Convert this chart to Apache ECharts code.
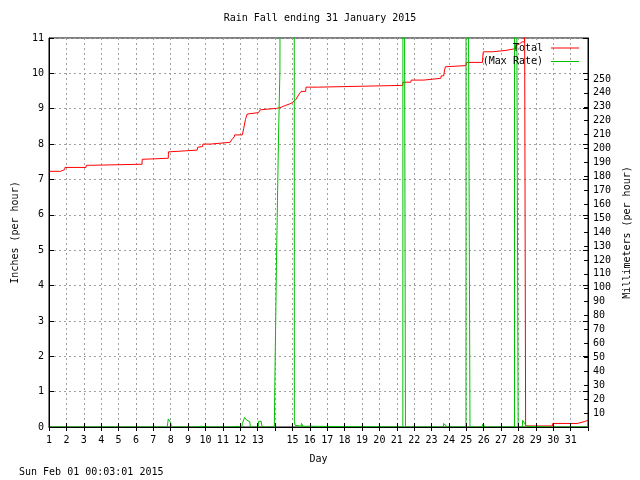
<!DOCTYPE html>
<html>
<head>
<meta charset="utf-8">
<script src="https://cdn.jsdelivr.net/npm/echarts@6/dist/echarts.min.js"></script>
<style>html,body{margin:0;padding:0;background:#fff}#c{width:640px;height:480px}</style>
</head>
<body>
<div id="c"></div>
<script>
// ---- data ----
const titleText = 'Rain Fall ending 31 January 2015';
const stampText = 'Sun Feb 01 00:03:01 2015';
const dayLabels = [1,2,3,4,5,6,7,8,9,10,11,12,13,15,16,17,18,19,20,21,22,23,24,25,26,27,28,29,30,31];
const inchLabels = [0,1,2,3,4,5,6,7,8,9,10,11];
const mmLabels = [10,20,30,40,50,60,70,80,90,100,110,120,130,140,150,160,170,180,190,200,210,220,230,240,250];

const totalDays = [1,1.67,1.69,1.90,1.92,3.13,3.15,3.37,3.39,6.35,6.36,6.40,7.86,7.87,7.95,
  9.52,9.55,9.83,9.85,10.28,10.30,11.42,11.50,11.65,11.68,12.12,12.20,12.30,12.40,12.46,
  13.05,13.15,13.26,14.08,14.10,14.35,14.37,14.58,14.60,14.81,14.83,14.98,15.00,15.20,15.27,15.38,15.50,15.76,15.78,16.45,16.47,
  21.34,21.35,21.81,21.83,22.55,22.57,23.53,23.56,23.70,23.75,23.80,23.95,23.97,
  24.98,25.00,25.93,25.96,25.98,26.50,26.52,27.28,27.30,27.84,27.88,28.05,28.20,28.34,28.35,28.41,
  29.95,29.97,31.38,31.40,31.78,31.80,32];
const totalInches = [7.23,7.23,7.28,7.28,7.34,7.34,7.40,7.40,7.43,7.43,7.57,7.60,7.60,7.78,7.83,
  7.83,7.91,7.93,8.00,8.00,8.05,8.05,8.12,8.20,8.26,8.26,8.45,8.70,8.85,8.89,
  8.89,8.97,9.01,9.01,9.04,9.04,9.09,9.09,9.13,9.13,9.17,9.17,9.22,9.26,9.31,9.41,9.49,9.49,9.61,9.61,9.66,
  9.66,9.75,9.75,9.81,9.81,9.86,9.86,9.93,9.93,10.10,10.19,10.19,10.22,
  10.22,10.31,10.31,10.55,10.61,10.61,10.65,10.65,10.70,10.70,10.80,10.83,10.89,10.89,12,0.03,
  0.03,0.10,0.10,0.15,0.15,0.19,0.19];

const rateDays = [1,1.93,1.95,1.99,2.00,6.38,6.40,6.45,6.47,7.80,7.83,7.86,7.95,8.00,8.04,
  9.55,9.56,9.75,9.76,10.26,10.27,10.32,10.33,11.48,11.50,11.80,11.82,
  12.09,12.12,12.25,12.30,12.35,12.45,12.55,12.58,13.03,13.05,13.20,13.25,
  13.96,13.98,14.03,14.08,14.14,14.20,14.28,14.34,15.10,15.11,15.15,15.20,15.50,15.52,15.60,15.93,15.95,
  21.35,21.36,21.44,21.50,23.68,23.70,23.80,23.85,23.95,23.97,
  24.98,24.99,25.10,25.21,25.93,25.95,26.05,26.08,
  27.77,27.78,27.84,27.98,28.22,28.24,28.33,28.35,28.45,28.50,29.94,29.96,29.99,30.00,32];
const rateInches = [0,0,0.03,0.03,0,0,0.02,0.02,0,0,0.12,0.23,0.23,0.12,0,
  0,0.02,0.02,0,0,0.02,0.02,0,0,0.02,0.02,0,
  0,0.10,0.27,0.27,0.20,0.15,0.15,0,0,0.16,0.16,0,
  0,0.90,2.74,4.60,6.40,8.23,10.07,25,25,0.17,0.05,0.02,0.02,0.10,0.02,0.02,0,
  0,30,30,0,0,0.10,0.10,0.02,0.02,0,
  0,30,30,0,0,0.08,0.08,0,
  0,30,30,0,0,0.19,0.19,0.10,0.02,0,0,0.02,0.02,0,0];

const totalData = totalDays.map((d,i)=>[d,totalInches[i]]);
const rateData = rateDays.map((d,i)=>[d,rateInches[i]]);

const FONT = 'DejaVu Sans Mono';
const txt = {fontFamily: FONT, fontSize: 10, color: '#000'};
const gridLine = {show: true, lineStyle: {color: '#a0a0a0', type: [2,3], width: 1}};

const chart = echarts.init(document.getElementById('c'), null, {renderer: 'canvas'});
chart.setOption({
  animation: false,
  backgroundColor: '#fff',
  title: {text: titleText, left: 'center', top: 13, padding: 0,
    textStyle: {fontFamily: FONT, fontSize: 10, fontWeight: 'normal', color: '#000'}},
  legend: {
    data: [{name: 'Total', icon: 'rect'}, {name: '(Max Rate)', icon: 'rect'}],
    orient: 'vertical', right: 61, top: 43, padding: 0,
    align: 'right', itemWidth: 28, itemHeight: 1, itemGap: 3.5,
    textStyle: {...txt, padding: [0, 3, 0, 0]}
  },
  graphic: [{type: 'text', left: 19, top: 467, style: {text: stampText, fontFamily: FONT, fontSize: 10, fill: '#000'}}],
  grid: {left: 49, right: 50, top: 38, bottom: 53, show: true, borderColor: '#000', borderWidth: 1, backgroundColor: 'transparent'},
  xAxis: [
    {type: 'value', min: 1, max: 32, interval: 1, position: 'bottom', z: 10,
      name: 'Day', nameLocation: 'middle', nameGap: 27, nameTextStyle: txt,
      axisLine: {show: true, lineStyle: {color: '#000'}},
      axisTick: {show: true, inside: true, length: 4, lineStyle: {color: '#000'}},
      axisLabel: {show: true, customValues: dayLabels, margin: 8, ...txt},
      splitLine: {show: false}},
    {type: 'value', min: 1, max: 32, interval: 1, position: 'top',
      axisLine: {show: false},
      axisTick: {show: true, inside: true, length: 4, lineStyle: {color: '#000'}},
      axisLabel: {show: false},
      splitLine: gridLine}
  ],
  yAxis: [
    {type: 'value', min: 0, max: 11, interval: 1, position: 'left', z: 10,
      name: 'Inches (per hour)', nameLocation: 'middle', nameGap: 29, nameTextStyle: txt,
      axisLine: {show: true, lineStyle: {color: '#000'}},
      axisTick: {show: true, inside: true, length: 5, lineStyle: {color: '#000'}},
      axisLabel: {show: true, customValues: inchLabels, margin: 5, ...txt},
      splitLine: {show: false}},
    {type: 'value', min: 0, max: 279.4, position: 'right', z: 10,
      name: 'Millimeters (per hour)', nameLocation: 'middle', nameGap: 31, nameRotate: 90, nameTextStyle: txt,
      axisLine: {show: true, lineStyle: {color: '#000'}},
      axisTick: {show: true, inside: true, length: 4, customValues: mmLabels, lineStyle: {color: '#000'}},
      axisLabel: {show: true, customValues: mmLabels, margin: 5, ...txt},
      splitLine: {show: false}},
    {type: 'value', min: 0, max: 11, interval: 1, position: 'right',
      axisLine: {show: false},
      axisTick: {show: true, inside: true, length: 5, lineStyle: {color: '#000'}},
      axisLabel: {show: false},
      splitLine: gridLine}
  ],
  series: [
    {name: 'Total', type: 'line', xAxisIndex: 0, yAxisIndex: 0, data: totalData,
      symbol: 'none', showSymbol: false, clip: true,
      lineStyle: {color: '#ff0000', width: 1}, itemStyle: {color: '#ff0000'}},
    {name: '(Max Rate)', type: 'line', xAxisIndex: 0, yAxisIndex: 0, data: rateData,
      symbol: 'none', showSymbol: false, clip: true,
      lineStyle: {color: '#00c000', width: 1}, itemStyle: {color: '#00c000'}}
  ]
});
</script>
</body>
</html>
